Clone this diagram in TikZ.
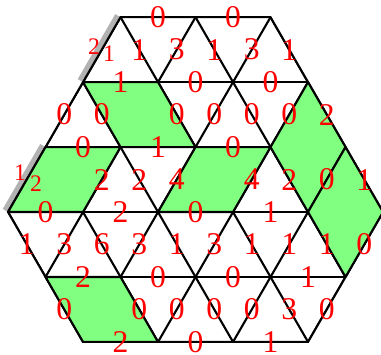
\documentclass[tikz,border=0pt]{standalone}
\usepackage{fontspec}
\setmainfont{Liberation Serif}
\begin{document}
\begin{tikzpicture}[
        line width=0.8pt,
        lab/.style={text=red, font=\fontsize{12}{14}\selectfont, inner sep=0pt},
        sublab/.style={lab, font=\fontsize{9}{11}\selectfont},
        tile/.style={draw=black, fill=green!50, line join=round},
        shadow/.style={draw=gray!60, line width=2pt}
    ]
        \def\rh{0.866}
        \useasboundingbox (-0.107,-1.893) rectangle (4.973,2.827);

        % Углы шестиугольника.
        \coordinate (A) at (0,0);
        \coordinate (B) at (1.5,3*\rh);
        \coordinate (C) at (3.5,3*\rh);
        \coordinate (D) at (5,0);
        \coordinate (E) at (4,-2*\rh);
        \coordinate (F) at (1,-2*\rh);
        \coordinate (P) at (1,2*\rh);
        \coordinate (Q) at (0.5,\rh);

        % Серые полосы вдоль двух сторон.
        \draw[shadow] ([shift={(-0.04,0.023)}]B) -- ([shift={(-0.04,0.023)}]P);
        \draw[shadow] ([shift={(-0.04,0.023)}]Q) -- ([shift={(-0.04,0.023)}]A);

        % Треугольная сетка.
        \begin{scope}
            \clip (A) -- (B) -- (C) -- (D) -- (E) -- (F) -- cycle;
            \foreach \k in {-2,...,3}
                \draw (0,\k*\rh) -- (5,\k*\rh);
            \foreach \n in {0,...,5} {
                \draw (\n-1,-2*\rh) -- (\n+1.5,3*\rh);
                \draw (\n+1,-2*\rh) -- (\n-1.5,3*\rh);
            }
        \end{scope}
        \draw (A) -- (B) -- (C) -- (D) -- (E) -- (F) -- cycle;

        % Зелёные ромбы.
        \filldraw[tile] (P) -- (2,2*\rh) -- (2.5,\rh) -- (1.5,\rh) -- cycle;
        \filldraw[tile] (4,2*\rh) -- (4.5,\rh) -- (4,0) -- (3.5,\rh) -- cycle;
        \filldraw[tile] (4.5,\rh) -- (D) -- (4.5,-\rh) -- (4,0) -- cycle;
        \filldraw[tile] (Q) -- (1.5,\rh) -- (1,0) -- (A) -- cycle;
        \filldraw[tile] (2.5,\rh) -- (3.5,\rh) -- (3,0) -- (2,0) -- cycle;
        \filldraw[tile] (0.5,-\rh) -- (1.5,-\rh) -- (2,-2*\rh) -- (F) -- cycle;

        % Числа на рёбрах, по рядам сверху вниз.
        \foreach \x/\t [count=\i] in {2/0, 3/0}
            \node[lab] (r0-\i) at (\x,3*\rh) {\t};
        \foreach \x/\t [count=\i] in {1.75/1, 2.25/3, 2.75/1, 3.25/3, 3.75/1}
            \node[lab] (r1-\i) at (\x,2.5*\rh) {\t};
        \foreach \x/\t [count=\i] in {1.5/1, 2.5/0, 3.5/0}
            \node[lab] (r2-\i) at (\x,2*\rh) {\t};
        \foreach \x/\t [count=\i] in {0.75/0, 1.25/0, 2.25/0, 2.75/0, 3.25/0, 3.75/0, 4.25/2}
            \node[lab] (r3-\i) at (\x,1.5*\rh) {\t};
        \foreach \x/\t [count=\i] in {1/0, 2/1, 3/0}
            \node[lab] (r4-\i) at (\x,\rh) {\t};
        \foreach \x/\t [count=\i] in {1.25/2, 1.75/2, 2.25/4, 3.25/4, 3.75/2, 4.25/0, 4.75/1}
            \node[lab] (r5-\i) at (\x,0.5*\rh) {\t};
        \foreach \x/\t [count=\i] in {0.5/0, 1.5/2, 2.5/0, 3.5/1}
            \node[lab] (r6-\i) at (\x,0) {\t};
        \foreach \x/\t [count=\i] in {0.25/1, 0.75/3, 1.25/6, 1.75/3, 2.25/1, 2.75/3, 3.25/1, 3.75/1, 4.25/1, 4.75/0}
            \node[lab] (r7-\i) at (\x,-0.5*\rh) {\t};
        \foreach \x/\t [count=\i] in {1/2, 2/0, 3/0, 4/1}
            \node[lab] (r8-\i) at (\x,-\rh) {\t};
        \foreach \x/\t [count=\i] in {0.75/0, 1.75/0, 2.25/0, 2.75/0, 3.25/0, 3.75/3, 4.25/0}
            \node[lab] (r9-\i) at (\x,-1.5*\rh) {\t};
        \foreach \x/\t [count=\i] in {1.5/2, 2.5/0, 3.5/1}
            \node[lab] (r10-\i) at (\x,-2*\rh) {\t};

        % Маленькие числа у серых полос.
        \node[sublab] (s1) at (1.147,2.207) {2};
        \node[sublab] (s2) at (1.347,2.107) {1};
        \node[sublab] (s3) at (0.16,0.52) {1};
        \node[sublab] (s4) at (0.373,0.373) {2};
    \end{tikzpicture}
\end{document}
